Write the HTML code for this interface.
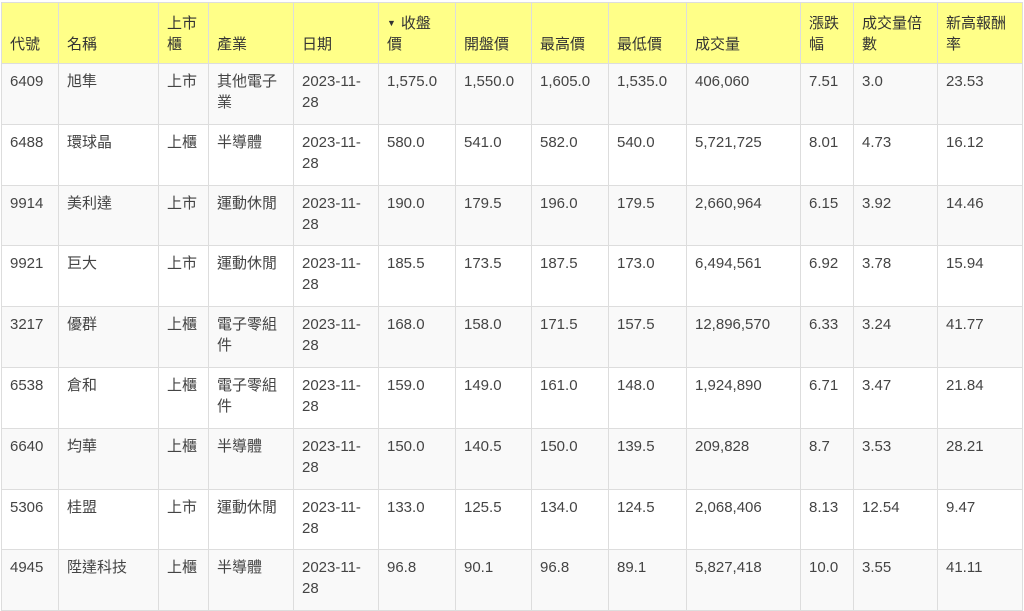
<!DOCTYPE html>
<html><head><meta charset="utf-8"><style>
body{margin:0;background:#fff;width:1024px;height:605px;overflow:hidden;font-family:"Liberation Sans","Noto Sans CJK TC",sans-serif;font-size:15px;color:#444}
table{border-collapse:collapse;table-layout:fixed;position:absolute;left:1px;top:2px;width:1021px}
td,th{border:1px solid #ddd;padding:7px 8px;line-height:21px;vertical-align:top;text-align:left;font-weight:normal;overflow:hidden}
th{background:#ffff88;vertical-align:bottom;height:45px;padding-bottom:8px;color:#333}
td{height:45.8px}
tbody tr:nth-child(odd) td{background:#f9f9f9}
.tri{font-size:9px;vertical-align:2px;margin-right:5px}
</style></head><body>
<table>
<colgroup><col style="width:57px"><col style="width:100px"><col style="width:50px"><col style="width:85px"><col style="width:85px"><col style="width:77px"><col style="width:76px"><col style="width:77px"><col style="width:78px"><col style="width:114px"><col style="width:53px"><col style="width:84px"><col style="width:85px"></colgroup>
<thead><tr><th>代號</th><th>名稱</th><th>上市櫃</th><th>產業</th><th>日期</th><th><span class="tri">▼</span>收盤<br>價</th><th>開盤價</th><th>最高價</th><th>最低價</th><th>成交量</th><th>漲跌幅</th><th>成交量倍數</th><th>新高報酬率</th></tr></thead>
<tbody>
<tr><td>6409</td><td>旭隼</td><td>上市</td><td>其他電子業</td><td>2023-11-28</td><td>1,575.0</td><td>1,550.0</td><td>1,605.0</td><td>1,535.0</td><td>406,060</td><td>7.51</td><td>3.0</td><td>23.53</td></tr>
<tr><td>6488</td><td>環球晶</td><td>上櫃</td><td>半導體</td><td>2023-11-28</td><td>580.0</td><td>541.0</td><td>582.0</td><td>540.0</td><td>5,721,725</td><td>8.01</td><td>4.73</td><td>16.12</td></tr>
<tr><td>9914</td><td>美利達</td><td>上市</td><td>運動休閒</td><td>2023-11-28</td><td>190.0</td><td>179.5</td><td>196.0</td><td>179.5</td><td>2,660,964</td><td>6.15</td><td>3.92</td><td>14.46</td></tr>
<tr><td>9921</td><td>巨大</td><td>上市</td><td>運動休閒</td><td>2023-11-28</td><td>185.5</td><td>173.5</td><td>187.5</td><td>173.0</td><td>6,494,561</td><td>6.92</td><td>3.78</td><td>15.94</td></tr>
<tr><td>3217</td><td>優群</td><td>上櫃</td><td>電子零組件</td><td>2023-11-28</td><td>168.0</td><td>158.0</td><td>171.5</td><td>157.5</td><td>12,896,570</td><td>6.33</td><td>3.24</td><td>41.77</td></tr>
<tr><td>6538</td><td>倉和</td><td>上櫃</td><td>電子零組件</td><td>2023-11-28</td><td>159.0</td><td>149.0</td><td>161.0</td><td>148.0</td><td>1,924,890</td><td>6.71</td><td>3.47</td><td>21.84</td></tr>
<tr><td>6640</td><td>均華</td><td>上櫃</td><td>半導體</td><td>2023-11-28</td><td>150.0</td><td>140.5</td><td>150.0</td><td>139.5</td><td>209,828</td><td>8.7</td><td>3.53</td><td>28.21</td></tr>
<tr><td>5306</td><td>桂盟</td><td>上市</td><td>運動休閒</td><td>2023-11-28</td><td>133.0</td><td>125.5</td><td>134.0</td><td>124.5</td><td>2,068,406</td><td>8.13</td><td>12.54</td><td>9.47</td></tr>
<tr><td>4945</td><td>陞達科技</td><td>上櫃</td><td>半導體</td><td>2023-11-28</td><td>96.8</td><td>90.1</td><td>96.8</td><td>89.1</td><td>5,827,418</td><td>10.0</td><td>3.55</td><td>41.11</td></tr>
</tbody></table>
</body></html>
